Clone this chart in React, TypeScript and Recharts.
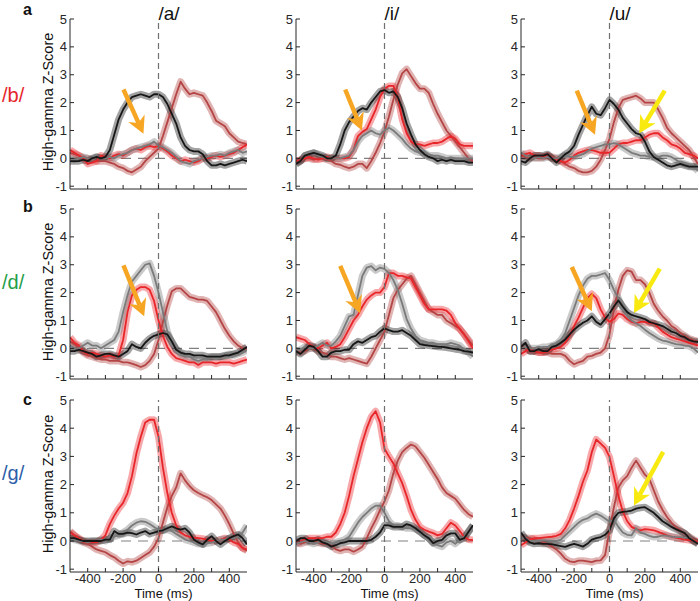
import { ComposedChart, Line, XAxis, YAxis, ReferenceLine } from "recharts"

// time axis (ms), one sample every 25 ms
const time = [
  -500, -475, -450, -425, -400, -375, -350, -325, -300, -275,
  -250, -225, -200, -175, -150, -125, -100, -75, -50, -25,
  0, 25, 50, 75, 100, 125, 150, 175, 200, 225,
  250, 275, 300, 325, 350, 375, 400, 425, 450, 475, 500,
]
const xTicks = [-400, -300, -200, -100, 0, 100, 200, 300, 400]
const xLabels = [-400, -200, 0, 200, 400]
const yTicks = [-1, 0, 1, 2, 3, 4, 5]

const vowels = ["/a/", "/i/", "/u/"]
const consonants = ["/b/", "/d/", "/g/"]
const consonantColors = ["#e5262b", "#1f9e49", "#2d5ea9"]
const panelLetters = ["a", "b", "c"]

// row /b/
const bA_red = [0.3, 0.2, 0.1, 0.0, -0.2, -0.15, -0.1, 0.1, 0.05, 0.0, 0.1, 0.15, 0.1, 0.2, 0.3, 0.35, 0.3, 0.4, 0.45, 0.4, 0.45, 0.35, 0.25, 0.1, 0.0, -0.1, -0.05, -0.1, -0.15, -0.1, 0.0, 0.0, 0.05, 0.1, 0.05, 0.1, 0.15, 0.2, 0.3, 0.4, 0.5]
const bA_dark = [0.2, 0.15, 0.1, 0.0, 0.0, -0.05, -0.1, -0.1, -0.1, -0.15, -0.2, -0.3, -0.35, -0.45, -0.5, -0.4, -0.3, -0.1, 0.05, 0.2, 0.35, 0.8, 1.3, 1.8, 2.3, 2.75, 2.5, 2.3, 2.35, 2.3, 2.25, 2.0, 1.7, 1.35, 1.25, 1.15, 0.9, 0.75, 0.6, 0.55, 0.5]
const bA_gray = [0.0, -0.05, 0.0, 0.05, 0.0, -0.05, 0.05, 0.0, 0.0, 0.05, 0.0, 0.1, 0.15, 0.2, 0.3, 0.35, 0.4, 0.45, 0.5, 0.6, 0.45, 0.4, 0.3, 0.2, 0.05, -0.1, -0.15, -0.2, -0.1, -0.05, 0.0, 0.05, 0.1, 0.1, 0.15, 0.1, 0.2, 0.25, 0.3, 0.2, 0.25]
const bA_black = [-0.1, -0.1, -0.1, -0.05, -0.1, 0.0, 0.05, 0.0, 0.05, 0.3, 0.85, 1.4, 1.75, 2.0, 2.2, 2.25, 2.3, 2.25, 2.2, 2.3, 2.3, 2.2, 1.95, 1.6, 1.25, 0.75, 0.45, 0.3, 0.25, 0.25, 0.15, -0.1, -0.25, -0.25, -0.2, -0.25, -0.2, -0.15, -0.1, -0.05, -0.1]

const bI_red = [-0.1, -0.05, 0.0, 0.05, 0.0, -0.05, 0.0, 0.05, 0.0, 0.0, 0.0, 0.0, 0.05, 0.3, 0.8, 0.95, 1.05, 1.4, 1.75, 2.2, 2.5, 2.6, 2.6, 2.2, 1.4, 0.9, 0.6, 0.5, 0.5, 0.45, 0.5, 0.55, 0.55, 0.6, 0.7, 0.8, 0.7, 0.5, 0.45, 0.45, 0.45]
const bI_dark = [-0.1, -0.1, 0.0, 0.0, -0.05, 0.0, 0.0, -0.05, -0.1, -0.2, -0.23, -0.3, -0.35, -0.3, -0.2, -0.2, -0.35, -0.1, 0.2, 0.55, 0.95, 1.5, 2.1, 2.65, 3.05, 3.2, 2.95, 2.7, 2.5, 2.5, 2.35, 1.95, 1.6, 1.3, 1.0, 0.8, 0.6, 0.4, 0.2, 0.0, -0.1]
const bI_gray = [-0.2, -0.1, 0.1, 0.15, 0.2, 0.1, 0.05, 0.0, 0.0, 0.0, 0.0, 0.05, 0.1, 0.3, 0.6, 0.8, 0.9, 1.0, 0.9, 0.85, 1.0, 1.1, 1.0, 0.85, 0.7, 0.5, 0.35, 0.25, 0.2, 0.2, 0.1, 0.1, 0.1, 0.05, 0.0, 0.0, 0.0, 0.0, 0.0, 0.0, 0.0]
const bI_black = [-0.2, -0.1, 0.1, 0.15, 0.2, 0.15, 0.1, 0.0, 0.0, 0.1, 0.5, 1.0, 1.3, 1.5, 1.7, 1.8, 1.75, 2.0, 2.2, 2.4, 2.45, 2.35, 2.4, 2.2, 1.8, 1.25, 0.85, 0.5, 0.3, 0.15, 0.05, 0.0, -0.1, -0.05, -0.1, -0.05, -0.1, -0.1, -0.1, -0.15, -0.15]

const bU_red = [0.1, 0.15, 0.2, 0.1, 0.1, 0.05, 0.1, 0.0, -0.05, -0.1, -0.15, -0.05, 0.1, 0.2, 0.25, 0.3, 0.3, 0.25, 0.2, 0.2, 0.2, 0.35, 0.5, 0.55, 0.55, 0.6, 0.65, 0.65, 0.75, 0.85, 0.9, 0.9, 0.75, 0.65, 0.5, 0.45, 0.35, 0.2, 0.15, 0.1, 0.0]
const bU_dark = [0.1, 0.05, 0.0, 0.05, 0.0, 0.05, 0.1, 0.05, 0.0, -0.1, -0.2, -0.3, -0.35, -0.45, -0.5, -0.5, -0.45, -0.3, -0.05, 0.3, 0.7, 1.3, 1.8, 2.1, 2.15, 2.2, 2.25, 2.15, 2.0, 2.0, 2.0, 1.75, 1.45, 1.1, 0.9, 0.75, 0.6, 0.45, 0.3, 0.05, -0.2]
const bU_gray = [0.2, 0.1, 0.05, 0.0, 0.05, 0.0, 0.05, 0.0, 0.0, 0.05, 0.1, 0.05, 0.05, 0.1, 0.15, 0.25, 0.35, 0.4, 0.45, 0.5, 0.5, 0.55, 0.5, 0.4, 0.3, 0.2, 0.15, 0.1, 0.1, 0.05, 0.05, 0.05, 0.1, 0.1, 0.05, -0.05, -0.15, -0.2, -0.25, -0.3, -0.45]
const bU_black = [-0.1, -0.15, 0.0, 0.1, 0.1, 0.1, 0.15, 0.0, -0.15, 0.0, 0.15, 0.25, 0.45, 0.85, 1.2, 1.55, 1.85, 1.6, 1.55, 1.8, 2.1, 1.95, 1.75, 1.45, 1.25, 1.05, 0.9, 0.85, 0.6, 0.25, 0.05, -0.05, -0.15, -0.25, -0.3, -0.25, -0.2, -0.25, -0.3, -0.3, -0.3]

// row /d/
const dA_red = [0.4, 0.2, 0.1, -0.1, -0.2, -0.15, -0.2, -0.25, -0.3, -0.25, -0.3, -0.25, 0.3, 1.3, 1.9, 2.1, 2.2, 2.2, 2.1, 1.7, 1.0, 0.45, 0.05, -0.2, -0.35, -0.4, -0.45, -0.5, -0.5, -0.6, -0.5, -0.5, -0.5, -0.55, -0.5, -0.5, -0.5, -0.55, -0.5, -0.45, -0.4]
const dA_dark = [0.25, 0.15, 0.0, -0.15, -0.25, -0.3, -0.35, -0.4, -0.4, -0.45, -0.45, -0.45, -0.5, -0.5, -0.55, -0.6, -0.67, -0.6, -0.45, -0.2, 0.3, 0.95, 1.55, 2.05, 2.15, 2.15, 2.0, 1.85, 1.8, 1.75, 1.75, 1.7, 1.5, 1.3, 1.0, 0.7, 0.45, 0.25, 0.1, 0.0, -0.05]
const dA_gray = [0.1, 0.0, 0.0, 0.1, 0.2, 0.1, 0.1, 0.0, 0.1, 0.2, 0.3, 0.6, 1.3, 1.9, 2.4, 2.6, 2.8, 3.0, 3.05, 2.6, 2.0, 1.3, 0.6, 0.2, 0.0, -0.2, -0.3, -0.3, -0.4, -0.45, -0.4, -0.4, -0.3, -0.3, -0.3, -0.3, -0.2, -0.25, -0.2, -0.15, -0.05]
const dA_black = [-0.1, -0.1, -0.05, -0.1, -0.15, -0.2, -0.3, -0.25, -0.2, -0.2, -0.25, -0.3, -0.2, -0.1, 0.15, 0.05, 0.0, 0.2, 0.35, 0.45, 0.5, 0.55, 0.5, 0.25, -0.05, -0.15, -0.2, -0.2, -0.25, -0.25, -0.25, -0.3, -0.3, -0.3, -0.3, -0.25, -0.25, -0.2, -0.15, -0.05, 0.05]

const dI_red = [0.4, 0.35, 0.3, 0.15, 0.05, 0.0, 0.1, 0.2, 0.0, 0.05, 0.15, 0.4, 0.7, 1.0, 1.2, 1.5, 1.75, 1.9, 2.0, 2.0, 2.2, 2.7, 2.7, 2.6, 2.6, 2.55, 2.5, 2.2, 1.9, 1.6, 1.4, 1.4, 1.4, 1.4, 1.35, 1.2, 0.9, 0.7, 0.5, 0.25, 0.0]
const dI_dark = [-0.1, -0.15, -0.1, 0.0, 0.0, -0.1, -0.15, -0.2, -0.3, -0.3, -0.35, -0.4, -0.35, -0.4, -0.45, -0.5, -0.55, -0.3, 0.0, 0.3, 0.6, 1.2, 1.8, 2.1, 2.3, 2.5, 2.6, 2.3, 2.0, 1.7, 1.4, 1.3, 1.2, 1.2, 1.0, 0.9, 0.8, 0.7, 0.5, 0.3, 0.1]
const dI_gray = [-0.1, -0.05, 0.05, 0.0, 0.0, 0.1, 0.2, 0.1, 0.1, 0.25, 0.45, 0.8, 1.15, 1.2, 1.9, 2.6, 2.9, 2.95, 2.8, 2.9, 2.85, 2.7, 2.45, 2.1, 1.6, 1.05, 0.7, 0.45, 0.3, 0.25, 0.2, 0.2, 0.15, 0.15, 0.15, 0.2, 0.15, 0.1, -0.05, -0.15, -0.3]
const dI_black = [-0.1, -0.2, -0.05, 0.1, 0.05, -0.1, -0.3, -0.3, -0.15, -0.1, -0.1, -0.05, -0.05, 0.15, 0.25, 0.2, 0.3, 0.4, 0.45, 0.6, 0.72, 0.65, 0.6, 0.6, 0.65, 0.55, 0.45, 0.3, 0.15, 0.12, 0.1, 0.08, 0.06, 0.05, 0.03, 0.0, -0.03, -0.05, -0.1, -0.12, -0.15]

const dU_red = [-0.2, -0.1, -0.05, -0.1, -0.15, -0.15, -0.1, -0.05, 0.0, 0.05, 0.2, 0.45, 0.8, 1.1, 1.45, 1.8, 1.95, 1.8, 1.4, 1.1, 0.95, 1.05, 1.25, 1.2, 1.05, 0.95, 0.9, 0.95, 0.95, 0.9, 0.9, 0.75, 0.6, 0.5, 0.4, 0.35, 0.3, 0.25, 0.2, 0.15, 0.1]
const dU_dark = [0.1, 0.0, -0.1, -0.1, -0.15, -0.15, -0.15, -0.2, -0.2, -0.2, -0.27, -0.45, -0.57, -0.5, -0.45, -0.3, -0.27, -0.2, -0.15, 0.0, 0.5, 1.4, 2.1, 2.6, 2.8, 2.75, 2.45, 2.45, 2.3, 2.0, 1.6, 1.35, 1.15, 1.0, 0.8, 0.7, 0.55, 0.45, 0.35, 0.3, 0.25]
const dU_gray = [0.0, 0.05, 0.0, 0.0, 0.0, 0.05, 0.05, 0.1, 0.15, 0.3, 0.55, 1.0, 1.45, 1.9, 2.25, 2.5, 2.6, 2.6, 2.65, 2.7, 2.45, 2.1, 1.8, 1.45, 1.15, 1.0, 0.9, 0.8, 0.67, 0.55, 0.45, 0.35, 0.28, 0.25, 0.2, 0.15, 0.13, 0.1, 0.08, 0.0, -0.15]
const dU_black = [0.05, 0.2, -0.1, -0.1, -0.03, -0.1, -0.1, 0.05, 0.1, 0.2, 0.32, 0.5, 0.67, 0.8, 0.92, 1.0, 1.15, 0.95, 0.85, 1.05, 1.25, 1.5, 1.72, 1.5, 1.3, 1.2, 1.15, 1.1, 1.05, 0.95, 0.9, 0.85, 0.8, 0.7, 0.6, 0.55, 0.45, 0.4, 0.3, 0.25, 0.23]

// row /g/
const gA_red = [0.3, 0.2, 0.1, 0.0, -0.05, -0.05, -0.05, 0.05, 0.2, 0.6, 0.9, 1.15, 1.35, 1.7, 2.3, 3.1, 3.7, 4.2, 4.3, 4.3, 3.7, 2.6, 1.7, 1.0, 0.55, 0.3, 0.2, 0.15, 0.12, 0.1, 0.08, 0.05, 0.0, 0.0, 0.05, 0.1, 0.05, -0.05, -0.1, -0.25, -0.3]
const gA_dark = [0.35, 0.2, 0.05, -0.05, -0.1, -0.2, -0.3, -0.35, -0.4, -0.5, -0.58, -0.7, -0.8, -0.72, -0.75, -0.7, -0.6, -0.5, -0.4, -0.2, 0.1, 0.65, 1.2, 1.6, 1.9, 2.4, 2.15, 1.95, 1.8, 1.7, 1.62, 1.55, 1.45, 1.3, 1.15, 0.9, 0.6, 0.25, -0.05, -0.25, -0.35]
const gA_gray = [0.1, 0.05, 0.0, 0.0, -0.05, 0.0, 0.0, 0.05, 0.0, 0.1, 0.15, 0.2, 0.3, 0.4, 0.55, 0.65, 0.7, 0.68, 0.6, 0.5, 0.4, 0.38, 0.4, 0.35, 0.25, 0.15, 0.05, 0.0, -0.05, -0.1, -0.12, -0.08, -0.06, 0.0, 0.05, 0.06, 0.1, 0.1, 0.15, 0.3, 0.55]
const gA_black = [0.1, 0.1, 0.05, 0.0, 0.0, 0.0, 0.0, 0.0, 0.05, 0.05, 0.35, 0.25, 0.25, 0.3, 0.28, 0.23, 0.3, 0.35, 0.25, 0.3, 0.35, 0.38, 0.45, 0.52, 0.45, 0.4, 0.45, 0.3, 0.05, -0.05, -0.12, 0.05, 0.17, 0.0, -0.12, 0.0, 0.1, 0.17, 0.23, 0.1, -0.12]

const gI_red = [-0.1, 0.0, 0.05, 0.1, 0.1, 0.1, 0.1, 0.15, 0.15, 0.3, 0.6, 1.0, 1.6, 2.3, 2.9, 3.5, 4.0, 4.4, 4.6, 4.2, 3.27, 3.0, 2.75, 2.4, 2.05, 1.6, 1.1, 0.75, 0.5, 0.4, 0.33, 0.28, 0.2, 0.25, 0.45, 0.65, 0.55, 0.35, 0.15, 0.05, 0.03]
const gI_dark = [0.0, -0.1, -0.05, 0.0, 0.0, -0.05, -0.1, -0.1, -0.15, -0.3, -0.35, -0.3, -0.3, -0.38, -0.3, -0.2, 0.1, 0.45, 0.75, 1.1, 1.4, 1.8, 2.4, 2.85, 3.15, 3.3, 3.42, 3.35, 3.15, 2.95, 2.7, 2.45, 2.2, 1.9, 1.7, 1.6, 1.5, 1.3, 1.1, 0.95, 0.86]
const gI_gray = [-0.1, -0.05, 0.0, -0.05, -0.1, -0.05, 0.0, -0.05, -0.1, -0.05, 0.0, 0.05, 0.15, 0.4, 0.65, 0.85, 1.0, 1.15, 1.25, 1.25, 1.0, 0.7, 0.55, 0.55, 0.5, 0.45, 0.45, 0.42, 0.33, 0.2, 0.1, -0.05, -0.15, -0.2, -0.05, 0.0, -0.1, 0.05, 0.15, 0.35, 0.55]
const gI_black = [0.0, 0.1, 0.1, 0.0, 0.0, 0.05, -0.05, -0.1, -0.2, -0.15, -0.08, -0.05, 0.0, 0.0, 0.0, 0.0, 0.0, 0.04, 0.15, 0.3, 0.56, 0.55, 0.5, 0.5, 0.5, 0.6, 0.55, 0.45, 0.33, 0.2, 0.1, -0.08, 0.0, 0.04, 0.2, 0.27, 0.27, 0.04, 0.1, 0.33, 0.56]

const gU_red = [-0.15, -0.05, 0.05, 0.1, 0.1, 0.12, 0.14, 0.15, 0.18, 0.25, 0.45, 0.75, 1.15, 1.6, 2.1, 2.5, 3.15, 3.6, 3.45, 3.3, 2.98, 2.3, 1.6, 1.05, 0.7, 0.5, 0.42, 0.38, 0.42, 0.4, 0.38, 0.32, 0.26, 0.2, 0.15, 0.12, 0.08, 0.05, 0.03, 0.0, -0.03]
const gU_dark = [0.15, 0.12, 0.1, 0.05, 0.0, -0.05, -0.1, -0.2, -0.3, -0.45, -0.63, -0.72, -0.75, -0.7, -0.7, -0.72, -0.75, -0.7, -0.69, -0.5, 0.38, 1.2, 1.9, 2.15, 2.3, 2.6, 2.85, 2.6, 2.35, 2.2, 1.8, 1.4, 1.1, 0.85, 0.65, 0.5, 0.38, 0.25, 0.15, 0.05, -0.03]
const gU_gray = [0.14, 0.1, 0.0, 0.0, 0.0, 0.02, 0.02, 0.0, 0.0, 0.05, 0.2, 0.35, 0.5, 0.65, 0.75, 0.8, 0.9, 0.97, 0.9, 0.8, 0.68, 0.75, 0.5, 0.3, 0.22, 0.2, 0.45, 0.3, 0.25, 0.18, 0.14, 0.15, 0.2, 0.18, 0.15, 0.14, 0.14, 0.12, 0.14, 0.0, -0.1]
const gU_black = [0.3, 0.08, -0.05, -0.1, -0.08, -0.1, -0.1, -0.12, -0.15, -0.18, -0.21, -0.15, -0.1, -0.15, -0.2, -0.1, 0.05, 0.1, 0.14, 0.22, 0.38, 0.8, 1.0, 1.03, 1.05, 1.08, 1.15, 1.18, 1.2, 1.1, 1.0, 0.85, 0.7, 0.6, 0.5, 0.42, 0.35, 0.28, 0.1, 0.0, -0.1]

const RED = "#e8262a"
const DARK = "#b54444"
const GRAY = "#7a7a7a"
const BLACK = "#161616"
const ORANGE = "#f6a623"
const YELLOW = "#f8ea10"
const AXIS = "#262626"
const FONT = "Liberation Sans, Arial, sans-serif"

// arrow annotations, in data coordinates [time, z]
type Arrow = { color: string; from: number[]; to: number[] }
const bA_arrows: Arrow[] = [{ color: ORANGE, from: [-198, 2.47], to: [-85, 0.88] }]
const bI_arrows: Arrow[] = [{ color: ORANGE, from: [-222, 2.47], to: [-128, 1.0] }]
const bU_arrows: Arrow[] = [
  { color: ORANGE, from: [-185, 2.43], to: [-82, 0.85] },
  { color: YELLOW, from: [312, 2.43], to: [168, 0.9] },
]
const dA_arrows: Arrow[] = [{ color: ORANGE, from: [-198, 2.98], to: [-81, 1.15] }]
const dI_arrows: Arrow[] = [{ color: ORANGE, from: [-250, 2.96], to: [-137, 1.26] }]
const dU_arrows: Arrow[] = [
  { color: ORANGE, from: [-213, 2.92], to: [-100, 1.33] },
  { color: YELLOW, from: [284, 2.86], to: [138, 1.27] },
]
const gU_arrows: Arrow[] = [{ color: YELLOW, from: [303, 3.16], to: [138, 1.26] }]

// plot rectangles (px)
const colLeft = [70, 296, 521]
const rowTop = [19, 209, 400]
const rowHeight = [170, 170, 172]
const plotWidth = 177

const panels = [
  { row: 0, col: 0, red: bA_red, dark: bA_dark, gray: bA_gray, black: bA_black, arrows: bA_arrows },
  { row: 0, col: 1, red: bI_red, dark: bI_dark, gray: bI_gray, black: bI_black, arrows: bI_arrows },
  { row: 0, col: 2, red: bU_red, dark: bU_dark, gray: bU_gray, black: bU_black, arrows: bU_arrows },
  { row: 1, col: 0, red: dA_red, dark: dA_dark, gray: dA_gray, black: dA_black, arrows: dA_arrows },
  { row: 1, col: 1, red: dI_red, dark: dI_dark, gray: dI_gray, black: dI_black, arrows: dI_arrows },
  { row: 1, col: 2, red: dU_red, dark: dU_dark, gray: dU_gray, black: dU_black, arrows: dU_arrows },
  { row: 2, col: 0, red: gA_red, dark: gA_dark, gray: gA_gray, black: gA_black, arrows: [] as Arrow[] },
  { row: 2, col: 1, red: gI_red, dark: gI_dark, gray: gI_gray, black: gI_black, arrows: [] as Arrow[] },
  { row: 2, col: 2, red: gU_red, dark: gU_dark, gray: gU_gray, black: gU_black, arrows: gU_arrows },
]

const arrowShape = (color: string) => (p: any) => {
  const { x1, y1, x2, y2 } = p
  const dx = x2 - x1
  const dy = y2 - y1
  const len = Math.hypot(dx, dy) || 1
  const ux = dx / len
  const uy = dy / len
  const nx = -uy
  const ny = ux
  const hl = 17
  const hw = 9
  const bx = x2 - ux * hl
  const by = y2 - uy * hl
  const mx = x2 - ux * (hl - 5)
  const my = y2 - uy * (hl - 5)
  return (
    <g>
      <line x1={x1} y1={y1} x2={mx} y2={my} stroke={color} strokeWidth={4.5} />
      <polygon
        points={`${x2},${y2} ${bx + nx * hw},${by + ny * hw} ${mx},${my} ${bx - nx * hw},${by - ny * hw}`}
        fill={color}
      />
    </g>
  )
}

const series = [
  { key: "dark", color: DARK },
  { key: "red", color: RED },
  { key: "gray", color: GRAY },
  { key: "black", color: BLACK },
]

function Panel({ p }: { p: (typeof panels)[number] }) {
  const data = time.map((t, i) => ({ t, red: p.red[i], dark: p.dark[i], gray: p.gray[i], black: p.black[i] }))
  const last = p.row === 2
  const h = rowHeight[p.row]
  return (
    <div style={{ position: "absolute", left: colLeft[p.col] - 40, top: rowTop[p.row] - 10 }}>
      <ComposedChart width={40 + plotWidth + 2} height={10 + h + 30} data={data} margin={{ top: 10, right: 2, bottom: 0, left: 0 }}>
        <XAxis
          dataKey="t"
          type="number"
          domain={[-500, 500]}
          allowDataOverflow
          ticks={xTicks}
          interval={0}
          height={30}
          tickSize={-4}
          tickMargin={6}
          stroke={AXIS}
          tick={{ fill: AXIS, fontSize: 13, fontFamily: FONT }}
          tickFormatter={(v: number) => (last && xLabels.includes(v) ? String(v) : "")}
        />
        <YAxis
          type="number"
          domain={[-1.1, 5]}
          allowDataOverflow
          ticks={yTicks}
          interval={0}
          width={40}
          tickSize={-4}
          tickMargin={7}
          stroke={AXIS}
          tick={{ fill: AXIS, fontSize: 13, fontFamily: FONT }}
        />
        <ReferenceLine y={0} stroke="#808080" strokeWidth={1.2} strokeDasharray="10 7" />
        {series.map((s) => (
          <Line
            key={s.key + "-band"}
            dataKey={s.key}
            stroke={s.color}
            strokeOpacity={0.4}
            strokeWidth={7}
            strokeLinejoin="round"
            dot={false}
            activeDot={false}
            isAnimationActive={false}
          />
        ))}
        {series.map((s) => (
          <Line
            key={s.key}
            dataKey={s.key}
            stroke={s.color}
            strokeWidth={1.8}
            strokeLinejoin="round"
            dot={false}
            activeDot={false}
            isAnimationActive={false}
          />
        ))}
        <ReferenceLine x={0} stroke="#707070" strokeWidth={1.2} strokeDasharray="6 4" />
        {p.arrows.map((a, i) => (
          <ReferenceLine
            key={i}
            segment={[{ x: a.from[0], y: a.from[1] }, { x: a.to[0], y: a.to[1] }]}
            shape={arrowShape(a.color)}
            ifOverflow="visible"
          />
        ))}
      </ComposedChart>
    </div>
  )
}

export default function App() {
  return (
    <div
      style={{
        position: "absolute",
        left: 0,
        top: 0,
        width: 700,
        height: 601,
        overflow: "hidden",
        background: "#fff",
      }}
    >
      {panels.map((p, i) => (
        <Panel key={i} p={p} />
      ))}
      <svg width={700} height={601} style={{ position: "absolute", left: 0, top: 0, pointerEvents: "none" }} fontFamily={FONT}>
        {vowels.map((v, i) => (
          <text key={v} x={colLeft[i] + plotWidth / 2} y={20} fontSize={19} fill="#111">
            {v}
          </text>
        ))}
        {consonants.map((c, i) => (
          <text key={c} x={2} y={[102, 289, 480][i]} fontSize={20} fill={consonantColors[i]}>
            {c}
          </text>
        ))}
        {panelLetters.map((l, i) => (
          <text key={l} x={23} y={[15, 212, 405][i]} fontSize={16} fontWeight="bold" fill="#111">
            {l}
          </text>
        ))}
        {rowTop.map((t, i) => (
          <text
            key={i}
            transform={`translate(48, ${t + rowHeight[i] / 2 - 2}) rotate(-90)`}
            textAnchor="middle"
            dominantBaseline="central"
            fontSize={14.5}
            fill="#111"
          >
            High-gamma Z-Score
          </text>
        ))}
        {colLeft.map((l, i) => (
          <text key={i} x={l + plotWidth / 2 + 5} y={598} textAnchor="middle" fontSize={13} fill="#111">
            Time (ms)
          </text>
        ))}
      </svg>
    </div>
  )
}
